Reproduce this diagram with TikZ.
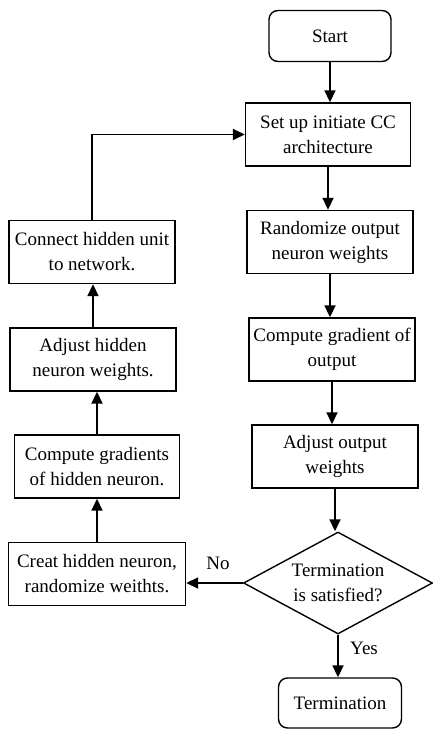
\documentclass[tikz,border=0pt]{standalone}
\usepackage{fontspec}
\setmainfont{Liberation Serif}
\usetikzlibrary{shapes.geometric,arrows.meta}
\begin{document}
\begin{tikzpicture}[x=1pt,y=-1pt,
  every node/.style={font=\fontsize{19}{25}\selectfont, align=center, inner sep=0pt},
  box/.style={draw, line width=1.4pt, minimum width=#1, minimum height=63pt},
  rbox/.style={draw, line width=1.4pt, rounded corners=9pt, minimum width=#1, minimum height=51pt},
  decision/.style={draw, line width=1.4pt, diamond, aspect=1.85, minimum width=189pt, minimum height=102pt},
  flow/.style={line width=1.8pt, -{Triangle[length=12pt,width=11pt]}},
  lbl/.style={font=\fontsize{19}{22}\selectfont}]
\useasboundingbox (0,0) rectangle (432,730);
\node[rbox=122pt] (start) at (330,36) {Start};
\node[box=165pt] (setup) at (328,134.5) {Set up initiate CC\\architecture};
\node[box=166pt] (rand) at (330,242) {Randomize output\\neuron weights};
\node[box=166pt] (compo) at (332,349.5) {Compute gradient of\\output};
\node[box=166pt] (adjo) at (335,456.5) {Adjust output\\weights};
\node[decision] (dec) at (338,583) {Termination\\is satisfied?};
\node[rbox=123pt, minimum height=50pt] (term) at (340,703) {Termination};
\node[box=166pt] (conn) at (92,252) {Connect hidden unit\\to network.};
\node[box=166pt] (adjh) at (93,359.5) {Adjust hidden\\neuron weights.};
\node[box=165pt] (comph) at (97,466.5) {Compute gradients\\of hidden neuron.};
\node[box=177pt] (creat) at (97,574) {Creat hidden neuron,\\randomize weithts.};
\node[lbl] (no) at (218,563) {No};
\node[lbl] (yes) at (364,648) {Yes};
\draw[flow] (start.south) -- (start.south |- setup.north);
\draw[flow] (setup.south) -- (setup.south |- rand.north);
\draw[flow] (rand.south) -- (rand.south |- compo.north);
\draw[flow] (compo.south) -- (compo.south |- adjo.north);
\draw[flow] (adjo.south) -- (adjo.south |- dec.north);
\draw[flow] (dec.south) -- (dec.south |- term.north);
\draw[flow] (dec.west) -- (dec.west -| creat.east);
\draw[flow] (creat.north) -- (creat.north |- comph.south);
\draw[flow] (comph.north) -- (comph.north |- adjh.south);
\draw[flow] (adjh.north) -- (adjh.north |- conn.south);
\draw[flow] (conn.north) |- (setup.west);
\end{tikzpicture}
\end{document}
